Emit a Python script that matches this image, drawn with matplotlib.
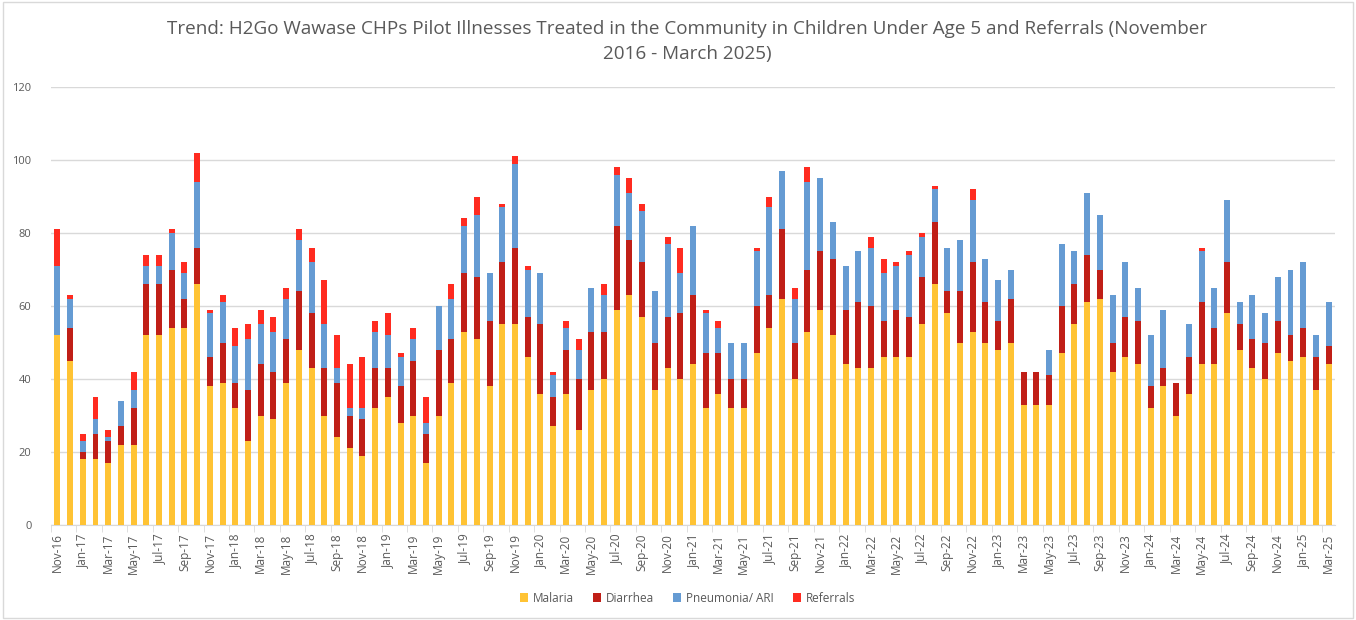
import numpy as np
import pandas as pd
import matplotlib
matplotlib.use('Agg')
import matplotlib.pyplot as plt
from matplotlib.patches import Rectangle

# monthly values, Nov 2016 - Mar 2025
months = pd.date_range('2016-11-01', '2025-03-01', freq='MS').strftime('%b-%y').tolist()

malaria = [52, 45, 18, 18, 17, 22, 22, 52, 52, 54, 54, 66,
           38, 39, 32, 23, 30, 29, 39, 48, 43, 30, 24, 21,
           19, 32, 35, 28, 30, 17, 30, 39, 53, 51, 38, 55,
           55, 46, 36, 27, 36, 26, 37, 40, 59, 63, 57, 37,
           43, 40, 44, 32, 36, 32, 32, 47, 54, 62, 40, 53,
           59, 52, 44, 43, 43, 46, 46, 46, 55, 66, 58, 50,
           53, 50, 48, 50, 33, 33, 33, 47, 55, 61, 62, 42,
           46, 44, 32, 38, 30, 36, 44, 44, 58, 48, 43, 40,
           47, 45, 46, 37, 44]
diarrhea = [0, 9, 2, 7, 6, 5, 10, 14, 14, 16, 8, 10,
            8, 11, 7, 14, 14, 13, 12, 16, 15, 13, 15, 9,
            10, 11, 8, 10, 15, 8, 18, 12, 16, 17, 18, 17,
            21, 11, 19, 8, 12, 14, 16, 13, 23, 15, 15, 13,
            14, 18, 19, 15, 11, 8, 8, 13, 9, 19, 10, 17,
            16, 21, 15, 18, 17, 10, 13, 11, 13, 17, 6, 14,
            19, 11, 8, 12, 9, 9, 8, 13, 11, 13, 8, 8,
            11, 12, 6, 5, 9, 10, 17, 10, 14, 7, 8, 10,
            9, 7, 8, 9, 5]
pneumonia = [19, 8, 3, 4, 1, 7, 5, 5, 5, 10, 7, 18,
             12, 11, 10, 14, 11, 11, 11, 14, 14, 12, 4, 2,
             3, 10, 9, 8, 6, 3, 12, 11, 13, 17, 13, 15,
             23, 13, 14, 6, 6, 8, 12, 10, 14, 13, 14, 14,
             20, 11, 19, 11, 7, 10, 10, 15, 24, 16, 12, 24,
             20, 10, 12, 14, 16, 13, 12, 17, 11, 9, 12, 14,
             17, 12, 11, 8, 0, 0, 7, 17, 9, 17, 15, 13,
             15, 9, 14, 16, 0, 9, 14, 11, 17, 6, 12, 8,
             12, 18, 18, 6, 12]
referrals = [10, 1, 2, 6, 2, 0, 5, 3, 3, 1, 3, 8,
             1, 2, 5, 4, 4, 4, 3, 3, 4, 12, 9, 12,
             14, 3, 6, 1, 3, 7, 0, 4, 2, 5, 0, 1,
             2, 1, 0, 1, 2, 3, 0, 3, 2, 4, 2, 0,
             2, 7, 0, 1, 2, 0, 0, 1, 3, 0, 3, 4,
             0, 0, 0, 0, 3, 4, 1, 1, 1, 1, 0, 0,
             3, 0, 0, 0, 0, 0, 0, 0, 0, 0, 0, 0,
             0, 0, 0, 0, 0, 0, 1, 0, 0, 0, 0, 0,
             0, 0, 0, 0, 0]

series = [('Malaria', malaria, '#FFC334'),
          ('Diarrhea', diarrhea, '#C01F17'),
          ('Pneumonia/ ARI', pneumonia, '#659BD3'),
          ('Referrals', referrals, '#FF2B20')]

plt.rcParams['font.family'] = ['Open Sans', 'DejaVu Sans']
grey = '#595959'

fig = plt.figure(figsize=(13.56, 6.2), dpi=100)
ax = fig.add_axes([51 / 1356, 1 - 525 / 620, (1335 - 51) / 1356, (525 - 87) / 620])

x = np.arange(len(months))
bottom = np.zeros(len(months))
for name, vals, col in series:
    vals = np.array(vals)
    ax.bar(x, vals, width=0.47, bottom=bottom, color=col, label=name, zorder=3)
    bottom += vals

ax.set_xlim(-0.5, len(months) - 0.5)
ax.set_ylim(0, 120)
ax.set_yticks(range(0, 121, 20))
ax.tick_params(axis='y', length=0, labelsize=8, labelcolor=grey, pad=14)
ax.grid(axis='y', color='#D9D9D9', linewidth=1, zorder=0)

ax.set_xticks(x[::2])
ax.set_xticklabels(months[::2], rotation=90)
ax.set_xticks(np.arange(-0.5, len(months), 2), minor=True)
ax.tick_params(axis='x', which='major', length=0, labelsize=8.5, labelcolor=grey, pad=6)
ax.tick_params(axis='x', which='minor', length=5, color='#D9D9D9')

for s in ['top', 'right', 'left']:
    ax.spines[s].set_visible(False)
ax.spines['bottom'].set_color('#D9D9D9')

fig.text(0.507, 0.967, 'Trend: H2Go Wawase CHPs Pilot Illnesses Treated in the Community in Children Under Age 5 and Referrals (November\n2016 - March 2025)',
         ha='center', va='top', fontsize=13.6, color=grey, linespacing=1.45)

fig.legend(loc='center', bbox_to_anchor=(0.507, 1 - 598 / 620), ncol=4, frameon=False,
           fontsize=8.5, labelcolor=grey, handlelength=0.7, handleheight=0.7,
           handletextpad=0.4, columnspacing=1.6)

fig.patches.append(Rectangle((0.002, 0.003), 0.996, 0.994, transform=fig.transFigure,
                             fill=False, edgecolor='#D9D9D9', linewidth=1))

fig.savefig('out.png', dpi=100)
